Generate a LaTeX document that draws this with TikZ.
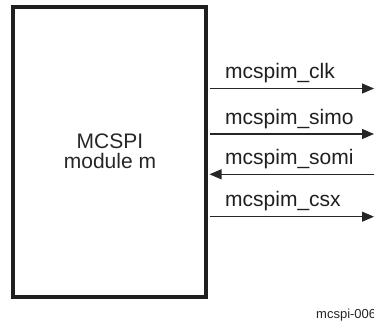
\documentclass[tikz,border=0pt]{standalone}
\usepackage{fontspec}
\setmainfont{Liberation Sans}
\usetikzlibrary{arrows.meta,calc}
\begin{document}
\begin{tikzpicture}[x=1pt,y=1pt,
  modbox/.style={draw=black!88,line width=4pt,minimum width=192.5pt,minimum height=290pt,inner sep=0pt},
  sig/.style={line width=1.1pt,draw=black!85},
  tipr/.style={-{Triangle[length=12pt,width=10pt]}},
  sigtext/.style={anchor=base west,inner sep=0pt,font=\fontsize{21}{25}\selectfont,text=black!88},
  note/.style={anchor=base west,inner sep=0pt,font=\fontsize{13}{15}\selectfont,text=black!85}]
\useasboundingbox (0,0) rectangle (374,325);
\node[modbox] (mod) at (109.25,173) {};
\node[anchor=base,inner sep=0pt,font=\fontsize{21}{25}\selectfont,text=black!85] (t1) at (110,176.7) {MCSPI};
\node[anchor=base,inner sep=0pt,font=\fontsize{21}{25}\selectfont,text=black!85] (t2) at (110,156.7) {module m};
% right end coordinates
\coordinate (e1) at (374,236.5);
\coordinate (e2) at (374,191);
\coordinate (e3) at (374,150.7);
\coordinate (e4) at (374,108.3);
\coordinate (s1) at ($(mod.east|-e1)+(2,0)$);
\coordinate (s2) at ($(mod.east|-e2)+(2,0)$);
\coordinate (s3) at ($(mod.east|-e3)+(2,0)$);
\coordinate (s4) at ($(mod.east|-e4)+(2,0)$);
\draw[sig,tipr] (s1) -- (e1);
\draw[sig,tipr] (s2) -- (e2);
\draw[sig,tipr] (e3) -- (s3);
\draw[sig,tipr] (s4) -- (e4);
\node[sigtext] (l1) at (225,246.5) {mcspim\_clk};
\node[sigtext] (l2) at (225,201) {mcspim\_simo};
\node[sigtext] (l3) at (225,160.7) {mcspim\_somi};
\node[sigtext] (l4) at (225,118.3) {mcspim\_csx};
\node[note] (n) at (316,7) {mcspi-006};
\end{tikzpicture}
\end{document}
